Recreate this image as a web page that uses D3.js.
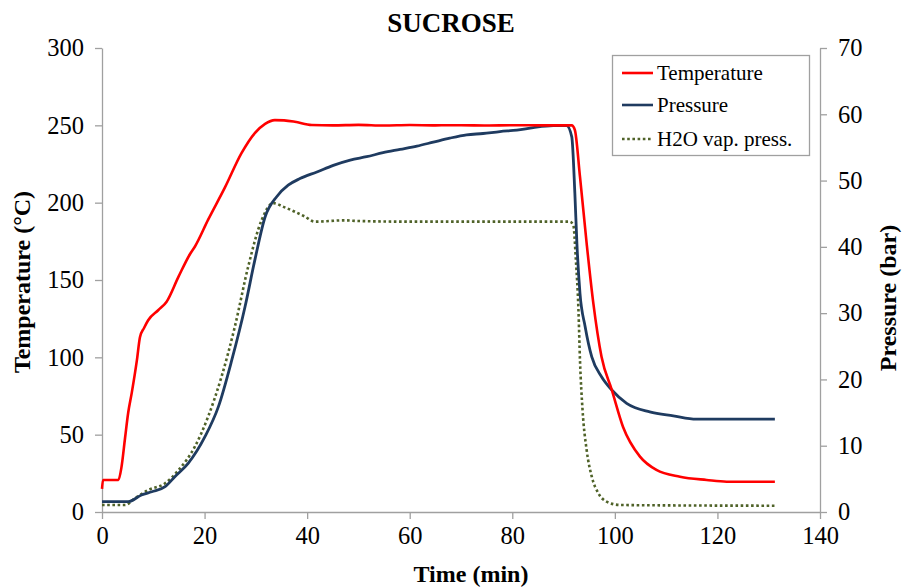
<!DOCTYPE html>
<html>
<head>
<meta charset="utf-8">
<script src="https://cdn.jsdelivr.net/npm/d3@7"></script>
<style>
  body { margin: 0; background: #fff; }
  svg { display: block; }
  text { font-family: "Liberation Serif", "Times New Roman", serif; fill: #000; }
</style>
</head>
<body>
<svg id="chart" width="904" height="588"></svg>
<script>
// ---- data ----
const tempTime = [0, 0.2, 3.2, 3.8, 4.5, 5.1, 5.8, 6.8, 7.4, 8.2, 9.0, 11.0, 12.6, 14.9, 17.2, 18.1, 20.7, 24.0, 27.2, 29.8, 31.8, 33.7, 35.5, 37.6, 40.9, 45, 50, 55, 60, 65, 70, 75, 80, 85, 90, 91.6, 92.2, 93.2, 94.5, 95.8, 97.4, 99.4, 101.6, 104.9, 108.1, 112.7, 117.9, 121.8, 131.2];
const tempValues = [15, 20.7, 20.7, 29, 48, 64, 77, 98, 113, 119, 124, 130.6, 136, 152, 167, 171.5, 189, 210, 232, 245, 251, 253.4, 253.2, 252.3, 250.2, 250, 250.3, 249.9, 250.2, 250, 250.1, 249.9, 250.1, 250, 250, 250, 247, 216.8, 173.7, 135, 100.4, 79, 55, 35.8, 27.2, 22.8, 20.7, 19.6, 19.6];

const presTime = [0, 5.1, 7.7, 9.7, 12.3, 14.2, 16.8, 20.1, 22.7, 25.3, 27.9, 29.8, 31.8, 34.1, 36.3, 38.6, 41.9, 45.1, 48.4, 51.6, 54.8, 58.1, 61.4, 64.6, 67.8, 71.1, 74.3, 77.6, 80.9, 84.1, 88, 90.6, 91.6, 92.2, 92.6, 93.2, 94.2, 95.5, 97.4, 99.4, 102.3, 106.8, 111.4, 115.9, 131.2];
const presValues = [1.56, 1.56, 2.56, 3.06, 3.82, 5.33, 7.34, 11.4, 15.9, 22.9, 31, 38, 44.5, 47.6, 49.3, 50.3, 51.3, 52.3, 53.1, 53.6, 54.2, 54.7, 55.2, 55.8, 56.4, 56.9, 57.1, 57.4, 57.6, 58.0, 58.3, 58.3, 56.6, 48.1, 40.5, 33, 28, 23.4, 20.4, 18.4, 16.4, 15.1, 14.5, 14.0, 14.0];

const vapTime = [0, 4.5, 6.4, 9.0, 12.3, 14.9, 18.1, 20.7, 23.3, 25.9, 28.5, 31.1, 33.4, 35.5, 37.6, 39.5, 41.5, 47.2, 50, 60, 70, 80, 91.2, 91.9, 92.4, 92.9, 93.2, 93.7, 94.5, 95.5, 96.8, 98.4, 101, 110, 131.2];
const vapValues = [1.06, 1.06, 2.06, 3.3, 4.33, 6.3, 9.85, 14.4, 20.4, 27.95, 37, 44, 46.6, 46.0, 45.3, 44.6, 43.8, 44.0, 43.9, 43.8, 43.8, 43.8, 43.8, 43.3, 38, 30.5, 22.9, 15.4, 9.35, 5.33, 2.82, 1.56, 1.06, 1.0, 0.95];

const xTicks = [0, 20, 40, 60, 80, 100, 120, 140];
const yLeftTicks = [0, 50, 100, 150, 200, 250, 300];
const yRightTicks = [0, 10, 20, 30, 40, 50, 60, 70];
const seriesNames = ["Temperature", "Pressure", "H2O vap. press."];

// ---- layout ----
const svg = d3.select("#chart");
const L = 102, R = 820, T = 48, B = 512;
const axisColor = "#a0a0a0";
const colors = { temp: "#ff0000", pres: "#1f3b60", vap: "#4f6228" };

const x = d3.scaleLinear().domain([0, 140]).range([L, R]);
const yL = d3.scaleLinear().domain([0, 300]).range([B, T]);
const yR = d3.scaleLinear().domain([0, 70]).range([B, T]);

function styleAxis(g) {
  g.select(".domain").attr("stroke", axisColor).attr("stroke-width", 1.3);
  g.selectAll(".tick line").attr("stroke", axisColor).attr("stroke-width", 1.3);
  g.selectAll(".tick text").style("font-size", "24.5px")
    .style("font-family", '"Liberation Serif", "Times New Roman", serif').attr("fill", "#000");
}

svg.append("g").attr("transform", `translate(0,${B})`)
  .call(d3.axisBottom(x).tickValues(xTicks).tickSize(7).tickPadding(8).tickSizeOuter(0))
  .call(styleAxis);

svg.append("g").attr("transform", `translate(${L},0)`)
  .call(d3.axisLeft(yL).tickValues(yLeftTicks).tickSize(7).tickPadding(11).tickSizeOuter(0))
  .call(styleAxis);

svg.append("g").attr("transform", `translate(${R},0)`)
  .call(d3.axisRight(yR).tickValues(yRightTicks).tickSize(7).tickPadding(11).tickSizeOuter(0))
  .call(styleAxis);

// ---- lines ----
const mk = (tArr, vArr) => tArr.map((t, i) => [t, vArr[i]]);

svg.append("path").datum(mk(vapTime, vapValues))
  .attr("fill", "none").attr("stroke", colors.vap).attr("stroke-width", 2.6)
  .attr("stroke-dasharray", "2.6,2.6")
  .attr("d", d3.line().x(d => x(d[0])).y(d => yR(d[1])).curve(d3.curveMonotoneX));

svg.append("path").datum(mk(presTime, presValues))
  .attr("fill", "none").attr("stroke", colors.pres).attr("stroke-width", 2.8)
  .attr("stroke-linejoin", "round")
  .attr("d", d3.line().x(d => x(d[0])).y(d => yR(d[1])).curve(d3.curveMonotoneX));

svg.append("path").datum(mk(tempTime, tempValues))
  .attr("fill", "none").attr("stroke", colors.temp).attr("stroke-width", 2.6)
  .attr("stroke-linejoin", "round")
  .attr("d", d3.line().x(d => x(d[0])).y(d => yL(d[1])).curve(d3.curveMonotoneX));

// ---- titles ----
svg.append("text").attr("x", 451).attr("y", 32).attr("text-anchor", "middle")
  .style("font-size", "27px").style("font-weight", "bold").text("SUCROSE");

svg.append("text").attr("x", 471).attr("y", 582).attr("text-anchor", "middle")
  .style("font-size", "24px").style("font-weight", "bold").text("Time (min)");

svg.append("text").attr("transform", "translate(30,282) rotate(-90)").attr("text-anchor", "middle")
  .style("font-size", "24px").style("font-weight", "bold").text("Temperature (°C)");

svg.append("text").attr("transform", "translate(896,298) rotate(-90)").attr("text-anchor", "middle")
  .style("font-size", "24px").style("font-weight", "bold").text("Pressure (bar)");

// ---- legend ----
const lg = svg.append("g");
lg.append("rect").attr("x", 612.5).attr("y", 55.5).attr("width", 197).attr("height", 100)
  .attr("fill", "#fff").attr("stroke", axisColor).attr("stroke-width", 1.3);
const legendItems = [
  { name: seriesNames[0], color: colors.temp, dash: null, y: 73 },
  { name: seriesNames[1], color: colors.pres, dash: null, y: 105 },
  { name: seriesNames[2], color: colors.vap, dash: "2.6,2.6", y: 139 }
];
legendItems.forEach(d => {
  lg.append("line").attr("x1", 622).attr("x2", 653).attr("y1", d.y).attr("y2", d.y)
    .attr("stroke", d.color).attr("stroke-width", 2.6)
    .attr("stroke-dasharray", d.dash);
  lg.append("text").attr("x", 657).attr("y", d.y).attr("dy", "0.35em")
    .style("font-size", "21px").text(d.name);
});
</script>
</body>
</html>
